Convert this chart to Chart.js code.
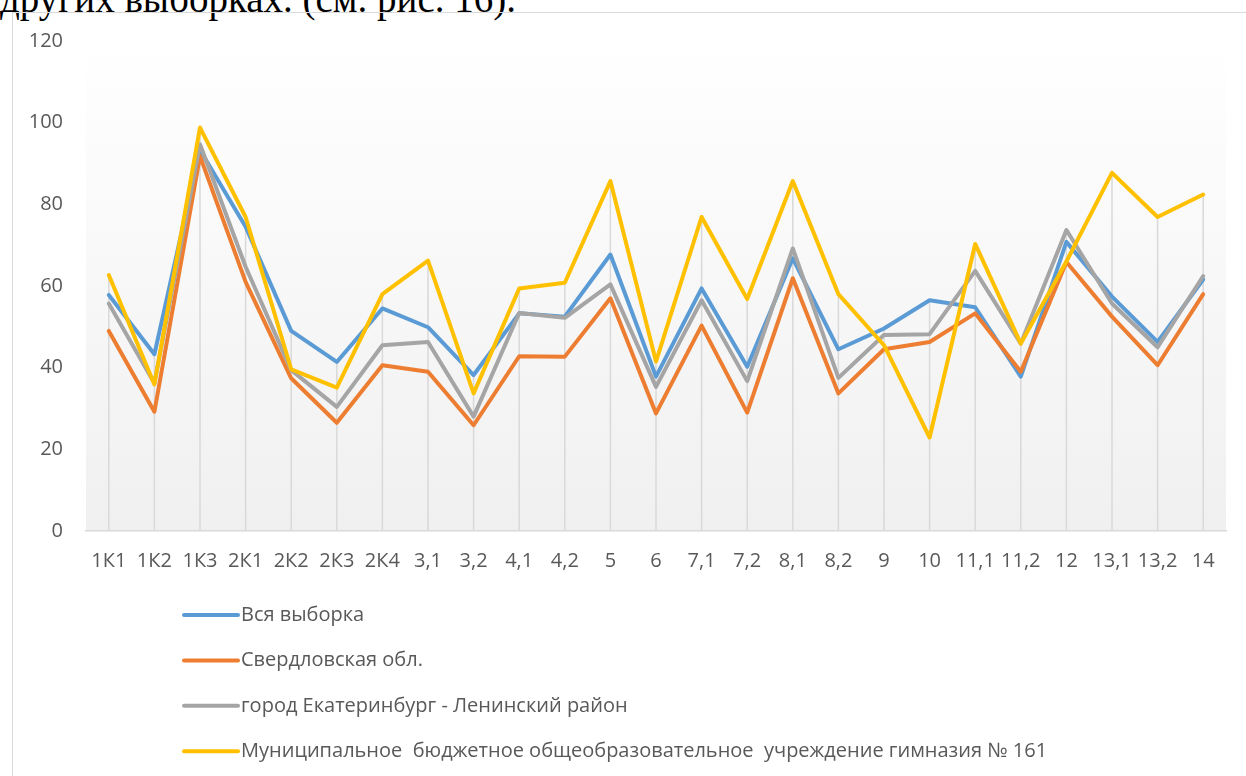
<!DOCTYPE html>
<html>
<head>
<meta charset="utf-8">
<script src="https://cdn.jsdelivr.net/npm/chart.js@4"></script>
<style>
  html, body { margin: 0; padding: 0; background: #fff; overflow: hidden; }
  #caption {
    position: absolute; left: 0; top: -21px; white-space: nowrap;
    font-family: "Liberation Serif", serif; font-size: 39px; line-height: 39px; color: #000;
  }
  #frame {
    position: absolute; left: 12px; top: 12px; width: 1400px; height: 900px;
    border: 1px solid #d9d9d9;
  }
  #chart { position: absolute; left: 0; top: 0; }
</style>
</head>
<body>
<div id="caption">других выборках. (см. рис. 16).</div>
<div id="frame"></div>
<canvas id="chart" width="1246" height="776"></canvas>
<script>
const labels = ['1К1', '1К2', '1К3', '2К1', '2К2', '2К3', '2К4', '3,1', '3,2', '4,1', '4,2', '5', '6',
  '7,1', '7,2', '8,1', '8,2', '9', '10', '11,1', '11,2', '12', '13,1', '13,2', '14'];

const vsyaVyborka = [57.8, 43.3, 93.3, 74.5, 49.0, 41.4, 54.5, 49.9, 38.2, 53.3, 52.5, 67.7, 37.8,
  59.4, 40.2, 66.8, 44.5, 49.6, 56.5, 54.8, 37.8, 70.8, 57.4, 46.3, 61.6];
const sverdlovsk = [49.0, 29.2, 91.8, 61.0, 37.4, 26.5, 40.6, 39.0, 25.9, 42.8, 42.7, 57.0, 28.8,
  50.3, 29.0, 61.9, 33.7, 44.5, 46.3, 53.3, 39.0, 65.9, 52.5, 40.6, 58.0];
const leninsky = [55.7, 36.2, 94.7, 64.7, 39.4, 30.4, 45.5, 46.3, 28.0, 53.4, 52.2, 60.4, 35.3,
  56.5, 36.7, 69.2, 37.5, 48.0, 48.2, 63.7, 45.9, 73.7, 55.7, 45.0, 62.4];
const gimnaziya = [62.7, 35.9, 98.8, 76.9, 39.6, 35.1, 58.0, 66.2, 33.7, 59.4, 60.8, 85.7, 41.5,
  76.9, 56.8, 85.7, 58.0, 45.5, 22.9, 70.3, 45.9, 66.0, 87.7, 76.9, 82.4];

const seriesNames = ['Вся выборка', 'Свердловская обл.', 'город Екатеринбург - Ленинский район',
  'Муниципальное  бюджетное общеобразовательное  учреждение гимназия № 161'];
const colors = ['#5B9BD5', '#ED7D31', '#A5A5A5', '#FFC000'];

const fontFamily = '"Open Sans", "Noto Sans", sans-serif';
const textColor = '#595959';

// plot area gradient (white at top, light grey at bottom)
const plotBackground = {
  id: 'plotBackground',
  beforeDraw(chart) {
    const {ctx, chartArea: a} = chart;
    const g = ctx.createLinearGradient(0, a.top, 0, a.bottom);
    g.addColorStop(0, '#ffffff');
    g.addColorStop(1, '#f0f0f0');
    ctx.save();
    ctx.fillStyle = g;
    ctx.fillRect(a.left, a.top, a.right - a.left, a.bottom - a.top);
    ctx.restore();
  }
};

// excel-like drop lines from the highest point down to the axis
const dropLines = {
  id: 'dropLines',
  beforeDatasetsDraw(chart) {
    const {ctx, scales: {x, y}} = chart;
    ctx.save();
    ctx.strokeStyle = '#d9d9d9';
    ctx.lineWidth = 1.5;
    labels.forEach((lab, i) => {
      const top = Math.max(...chart.data.datasets.map(d => d.data[i]));
      const px = x.getPixelForValue(i);
      ctx.beginPath();
      ctx.moveTo(px, y.getPixelForValue(top));
      ctx.lineTo(px, y.getPixelForValue(0));
      ctx.stroke();
    });
    ctx.restore();
  }
};

// vertical legend under the axis
const stackedLegend = {
  id: 'stackedLegend',
  afterDraw(chart) {
    const {ctx, chartArea: a} = chart;
    const x0 = a.left + 98;
    let yy = a.bottom + 84;
    ctx.save();
    ctx.font = '20px ' + fontFamily;
    ctx.textBaseline = 'middle';
    chart.data.datasets.forEach(ds => {
      ctx.strokeStyle = ds.borderColor;
      ctx.lineWidth = 4;
      ctx.lineCap = 'round';
      ctx.beginPath();
      ctx.moveTo(x0, yy);
      ctx.lineTo(x0 + 54, yy);
      ctx.stroke();
      ctx.fillStyle = textColor;
      ctx.fillText(ds.label, x0 + 57, yy);
      yy += 45.4;
    });
    ctx.restore();
  }
};

const datasets = [vsyaVyborka, sverdlovsk, leninsky, gimnaziya].map((vals, i) => ({
  label: seriesNames[i],
  data: vals,
  borderColor: colors[i],
  backgroundColor: colors[i],
  borderWidth: 4,
  pointRadius: 0,
  tension: 0,
  fill: false,
  borderJoinStyle: 'round',
  borderCapStyle: 'round',
  order: 4 - i
}));

new Chart(document.getElementById('chart'), {
  type: 'line',
  data: { labels: labels, datasets: datasets },
  plugins: [plotBackground, dropLines, stackedLegend],
  options: {
    responsive: false,
    animation: false,
    layout: { padding: { left: 0, right: 20, top: 41, bottom: 0 } },
    plugins: {
      legend: { display: false },
      tooltip: { enabled: false }
    },
    scales: {
      x: {
        offset: true,
        grid: { display: false, drawTicks: false },
        border: { display: true, color: '#d9d9d9', width: 1.5 },
        ticks: {
          color: textColor, autoSkip: false, maxRotation: 0, padding: 18,
          font: { family: fontFamily, size: 20 }
        },
        afterFit(s) { s.height = 245; }
      },
      y: {
        min: 0, max: 120,
        grid: { display: false, drawTicks: false },
        border: { display: false },
        ticks: {
          stepSize: 20, color: textColor, padding: 23,
          font: { family: fontFamily, size: 20 }
        },
        afterFit(s) { s.width = 86; }
      }
    }
  }
});
</script>
</body>
</html>
